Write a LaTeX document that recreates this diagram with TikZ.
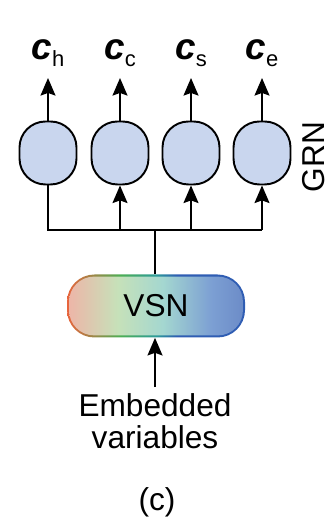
\documentclass[tikz,border=0pt]{standalone}
\usepackage{fontspec}
\setmainfont{Liberation Sans}
\usetikzlibrary{arrows.meta}

\definecolor{grnfill}{HTML}{C9D6EE}
\definecolor{rimA}{HTML}{E8643C}
\definecolor{rimB}{HTML}{4DAE55}
\definecolor{rimC}{HTML}{2E9C9A}
\definecolor{rimD}{HTML}{2F5DB3}
\pgfdeclarehorizontalshading{vsnrim}{100bp}{color(0bp)=(rimA); color(25bp)=(rimA); color(40bp)=(rimB); color(50bp)=(rimC); color(56bp)=(rimD); color(75bp)=(rimD); color(100bp)=(rimD)}
\definecolor{vsnA}{HTML}{EDB6A8}
\definecolor{vsnB}{HTML}{C6E1B9}
\definecolor{vsnC}{HTML}{A4D7D0}
\definecolor{vsnD}{HTML}{7C9FD3}
\definecolor{vsnE}{HTML}{6C8CC8}
\pgfdeclarehorizontalshading{vsnfill}{100bp}{color(0bp)=(vsnA); color(25bp)=(vsnA); color(39bp)=(vsnB); color(52bp)=(vsnC); color(66bp)=(vsnD); color(75bp)=(vsnE); color(100bp)=(vsnE)}

\tikzset{
    grnbox/.style={draw,line width=1.1pt,fill=grnfill,minimum width=1.14cm,minimum height=1.26cm,rounded corners=0.52cm,inner sep=0pt},
    outlab/.style={anchor=south,inner sep=0pt,outer sep=0.22cm},
    wire/.style={line width=1.1pt},
    arr/.style={wire,-{Stealth[length=10pt,width=8.5pt,inset=1.5pt]}},
    big/.style={font=\fontsize{18}{19.5}\selectfont}
}
\newcommand{\cvec}[1]{{\fontsize{21}{21}\selectfont\bfseries\itshape c}\raisebox{-4pt}{\fontsize{12.5}{12.5}\selectfont #1}}

\begin{document}
\begin{tikzpicture}
    \useasboundingbox (0,0) rectangle (6.58,10.4);

    \node (grnh) at (0.96,7.34) [grnbox]{};
    \node (grnc) at (2.40,7.34) [grnbox]{};
    \node (grns) at (3.82,7.34) [grnbox]{};
    \node (grne) at (5.24,7.34) [grnbox]{};
    \node (grnlab) at (6.27,7.26) [big,rotate=90,inner sep=0pt]{GRN};

    \node (ch) at (0.96,8.84) [outlab]{\cvec{h}};
    \node (cc) at (2.40,8.84) [outlab]{\cvec{c}};
    \node (cs) at (3.82,8.84) [outlab]{\cvec{s}};
    \node (ce) at (5.24,8.84) [outlab]{\cvec{e}};

    \draw [arr](grnh.north) -- (ch.south);
    \draw [arr](grnc.north) -- (cc.south);
    \draw [arr](grns.north) -- (cs.south);
    \draw [arr](grne.north) -- (ce.south);

    \node (vsnrim) at (3.12,4.28) [minimum width=3.56cm,minimum height=1.26cm,rounded corners=0.55cm,shading=vsnrim]{};
    \node (vsn) at (vsnrim) [minimum width=3.56cm-2.4pt,minimum height=1.26cm-2.4pt,rounded corners=0.5cm,shading=vsnfill,big]{VSN};

    \coordinate (junc) at (3.10,5.80);
    \draw [wire](vsnrim.north -| junc) -- (junc);
    \draw [wire](grnh.south) |- (grne.south |- junc);
    \draw [arr](grnc.south |- junc) -- (grnc.south);
    \draw [arr](grns.south |- junc) -- (grns.south);
    \draw [arr](grne.south |- junc) -- (grne.south);

    \node (emb) at (3.10,1.98) [big,align=center,inner sep=0pt]{Embedded\\[-1.5pt]variables};
    \draw [arr](emb.north) ++(0,0.12) coordinate (embtop) -- (vsnrim.south -| embtop);

    \node (cap) at (3.14,0.36) [big]{(c)};
\end{tikzpicture}
\end{document}
